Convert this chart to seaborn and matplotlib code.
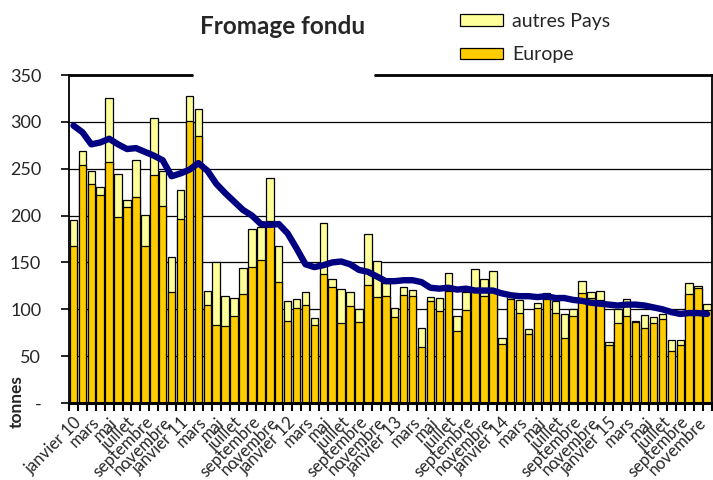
import numpy as np
import pandas as pd
import matplotlib
matplotlib.use("Agg")
import matplotlib.pyplot as plt
import seaborn as sns

sns.set_theme(style="white")
plt.rcParams['font.family'] = ['Lato', 'DejaVu Sans']

# ---- data -------------------------------------------------------------
mois = ["janvier", "février", "mars", "avril", "mai", "juin", "juillet",
        "août", "septembre", "octobre", "novembre", "décembre"]
annees = ["10", "11", "12", "13", "14", "15"]

europe = [168, 254, 234, 222, 257, 198, 209, 220, 168, 243, 210, 118,
          196, 301, 285, 105, 83, 82, 93, 116, 145, 153, 194, 129,
          88, 101, 105, 83, 138, 124, 85, 104, 86, 126, 113, 114,
          92, 115, 114, 60, 109, 98, 119, 77, 99, 123, 114, 120,
          63, 111, 96, 74, 101, 111, 96, 69, 93, 117, 112, 110,
          62, 85, 93, 86, 80, 85, 90, 55, 62, 116, 123, 99]

autres_pays = [27, 15, 14, 9, 68, 46, 8, 39, 33, 61, 38, 38,
               31, 27, 29, 14, 67, 32, 19, 28, 41, 35, 46, 39,
               21, 10, 13, 8, 54, 8, 37, 14, 14, 54, 39, 14,
               9, 9, 7, 20, 4, 14, 20, 16, 19, 20, 18, 21,
               6, 2, 14, 5, 6, 6, 13, 26, 7, 13, 6, 10,
               3, 15, 18, 1, 14, 7, 5, 12, 5, 12, 2, 7]

tendance = [296, 289, 276, 278, 282, 276, 271, 272, 268, 264, 259, 242,
            245, 249, 256, 248, 234, 224, 215, 206, 200, 191, 190, 191,
            181, 165, 148, 145, 147, 150, 151, 148, 142, 140, 135, 130,
            130, 131, 131, 129, 123, 122, 123, 121, 122, 120, 120, 120,
            117, 115, 114, 114, 113, 114, 112, 112, 110, 109, 107, 106,
            105, 104, 105, 105, 104, 102, 100, 97, 95, 96, 96, 95]

y_ticks = [0, 50, 100, 150, 200, 250, 300, 350]
y_labels = ["-", "50", "100", "150", "200", "250", "300", "350"]

labels = []
for a in annees:
    for i, m in enumerate(mois):
        labels.append(f"{m} {a}" if i == 0 else m)

df = pd.DataFrame({
    "pos": np.arange(len(europe)),
    "europe": europe,
    "total": np.array(europe) + np.array(autres_pays),
    "tendance": tendance,
})

# ---- figure -----------------------------------------------------------
fig = plt.figure(figsize=(7.13, 4.80), dpi=100)
ax = fig.add_axes([69 / 713, 77 / 480, 642.5 / 713, 328 / 480])

c_eu = "#FFCC00"
c_ap = "#FFFF99"

sns.barplot(data=df, x="pos", y="total", color=c_ap, saturation=1,
            width=0.84, edgecolor="black", linewidth=0.9, ax=ax, zorder=2)
sns.barplot(data=df, x="pos", y="europe", color=c_eu, saturation=1,
            width=0.84, edgecolor="black", linewidth=0.9, ax=ax, zorder=2)
sns.lineplot(data=df, x="pos", y="tendance", color="#000080", lw=4.6,
             ax=ax, zorder=4, solid_capstyle="round", solid_joinstyle="round")

ax.set_xlim(-0.5, len(europe) - 0.5)
ax.set_ylim(0, 350)

for v in y_ticks[1:-1]:
    ax.axhline(v, color="black", lw=0.9, zorder=1)

ax.set_yticks(y_ticks)
ax.set_yticklabels(y_labels, fontsize=13)
ax.tick_params(axis="y", direction="out", length=6, width=1.2, pad=14,
               color="black", left=True)

ax.set_xticks(np.arange(0, len(europe), 2))
ax.set_xticklabels(labels[::2], rotation=45, ha="right",
                   rotation_mode="anchor", fontsize=12)
ax.tick_params(axis="x", which="major", length=0, pad=8)
ax.set_xticks(np.arange(-0.5, len(europe), 1), minor=True)
ax.tick_params(axis="x", which="minor", direction="out", length=6,
               width=1.5, color="black", bottom=True)
for t in ax.get_xticklabels():
    t.set_x(t.get_position()[0] - 0.3)

ax.set_xlabel("")
ax.set_ylabel("")

for s in ["left", "right"]:
    ax.spines[s].set_color("black")
    ax.spines[s].set_linewidth(1.3)
ax.spines["bottom"].set_color("black")
ax.spines["bottom"].set_linewidth(2.2)
ax.spines["top"].set_visible(False)
# top frame interrupted by the title box
ax.plot([0, 123 / 642.5], [1, 1], transform=ax.transAxes, color="black",
        lw=2, clip_on=False, zorder=5)
ax.plot([306 / 642.5, 1], [1, 1], transform=ax.transAxes, color="black",
        lw=2, clip_on=False, zorder=5)

fig.text(17 / 713, 1 - 402 / 480, "tonnes", rotation=90, fontsize=12.5,
         fontweight="bold", ha="center", va="center")

fig.text(283 / 713, 1 - 26 / 480, "Fromage fondu", fontsize=17.5,
         fontweight="bold", ha="center", va="center")

h = ax.containers
leg = ax.legend([h[0][0], h[1][0]], ["autres Pays", "Europe"],
                loc="upper left", bbox_to_anchor=(452 / 713, 1 - 5 / 480),
                bbox_transform=fig.transFigure, frameon=False, fontsize=14,
                handlelength=2.2, handleheight=0.52, handletextpad=0.5,
                labelspacing=0.85, borderaxespad=0)

fig.savefig("out.png", dpi=100)
